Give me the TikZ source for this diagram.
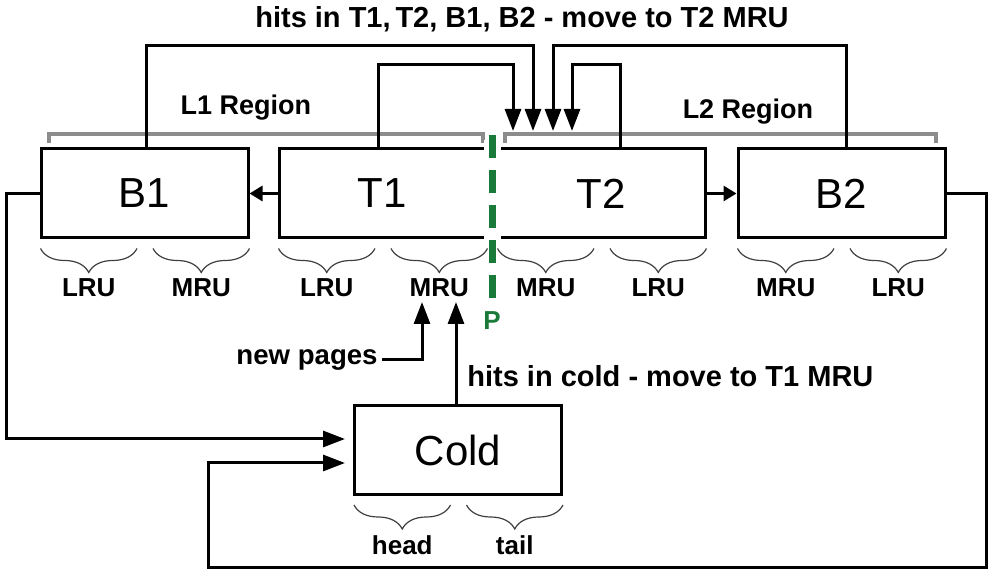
\documentclass[tikz,border=0pt]{standalone}
\usepackage{fontspec}
\setmainfont{Liberation Sans}
\usepackage{xcolor}
\usepackage{tikz}
\usetikzlibrary{arrows.meta,positioning,decorations.pathreplacing}
\definecolor{pgreen}{RGB}{26,122,58}

\begin{document}
\begin{tikzpicture}[x=0.5pt,y=-0.5pt,
  box/.style={draw,line width=1.5pt,minimum width=103.5pt,minimum height=44.5pt,font=\fontsize{21}{24}\selectfont},
  lbl/.style={font=\bfseries\fontsize{13}{15}\selectfont,inner sep=0pt},
  lblbig/.style={font=\bfseries\fontsize{14.5}{17}\selectfont,inner sep=0pt},
  conn/.style={line width=1.5pt},
  big/.style={-{Triangle[length=11pt,width=8pt]}},
  small/.style={-{Triangle[length=6.5pt,width=7.5pt]}},
  brc/.style={decorate,decoration={brace,mirror,amplitude=12pt},draw=black!75,line width=0.6pt},
  region/.style={draw=black!45,line width=2pt}]
\useasboundingbox (0,0) rectangle (998,581);
\node[box] (b1) at (144.5,193.5) {B1};
\node[box,right=14pt of b1] (t1) {T1};
\node[box,right=4.5pt of t1] (t2) {T2};
\node[box,right=15pt of t2] (b2) {B2};
\node[box] (cold) at (458,450) {Cold};

\draw[region] (49,143) -- (49,134) -- (483,134) -- (483,143);
\draw[region] (505,143) -- (505,134) -- (936,134) -- (936,143);
\node[lbl,font=\bfseries\fontsize{13.5}{16}\selectfont] (l1reg) at (246,108) {L1 Region};
\node[lbl,font=\bfseries\fontsize{13.5}{16}\selectfont] (l2reg) at (748,112) {L2 Region};
\node[lblbig] (title) at (522,19) {hits in T1,\,T2, B1, B2 - move to T2 MRU};

\foreach \bx/\la/\lb in {b1/LRU/MRU,t1/LRU/MRU,t2/MRU/LRU,b2/MRU/LRU,cold/head/tail} {
  \draw[brc] ([xshift=0.5pt,yshift=-4.5pt]\bx.south west) -- ([xshift=-3.75pt,yshift=-4.5pt]\bx.south)
    node[midway,below=15pt,lbl] (\bx-la) {\la};
  \draw[brc] ([xshift=4.25pt,yshift=-4.5pt]\bx.south) -- ([yshift=-4.5pt]\bx.south east)
    node[midway,below=15pt,lbl] (\bx-lb) {\lb};
}

\coordinate (in1) at (513,131);
\coordinate (in2) at (533,131);
\coordinate (in3) at (553,131);
\coordinate (in4) at (572,131);
\coordinate (mru1) at (422,302);
\coordinate (mru2) at (456,302);

\draw[conn,small] (t1) -- (b1);
\draw[conn,small] (t2) -- (b2);
\draw[conn,big] ([xshift=-2.25pt]t1.north) -- ++(0,-83) -| (in1);
\draw[conn,big] ([xshift=0.75pt]b1.north) -- ++(0,-102) -| (in2);
\draw[conn,big] ([xshift=2.25pt]b2.north) -- ++(0,-102) -| (in3);
\draw[conn,big] ([xshift=9.25pt]t2.north) -- ++(0,-83) -| (in4);
\draw[conn,big,shorten >=4pt] (b1.west) -- ++(-33,0) |- ([yshift=5.5pt]cold.west);
\draw[conn,big,shorten >=4pt] (b2.east) -- ++(40,0) |- (208,568) |- ([yshift=-6.5pt]cold.west);

\node[lbl,font=\bfseries\fontsize{13.8}{16}\selectfont,anchor=east] (newp) at (378,360) {new pages};
\draw[conn,big] ([xshift=2pt]newp.east) -| (mru1);
\draw[conn,big] ([xshift=-1pt]cold.north) -- (mru2);
\node[lblbig,anchor=west] (coldhit) at (467,376) {hits in cold - move to T1 MRU};

\fill[white] (483.5,140) rectangle (501,242);
\draw[pgreen,line width=3.5pt,dash pattern=on 11.5pt off 6pt] (492,135) -- (492,300);
\node[lbl,text=pgreen] (plbl) at (492,321) {P};
\end{tikzpicture}
\end{document}
